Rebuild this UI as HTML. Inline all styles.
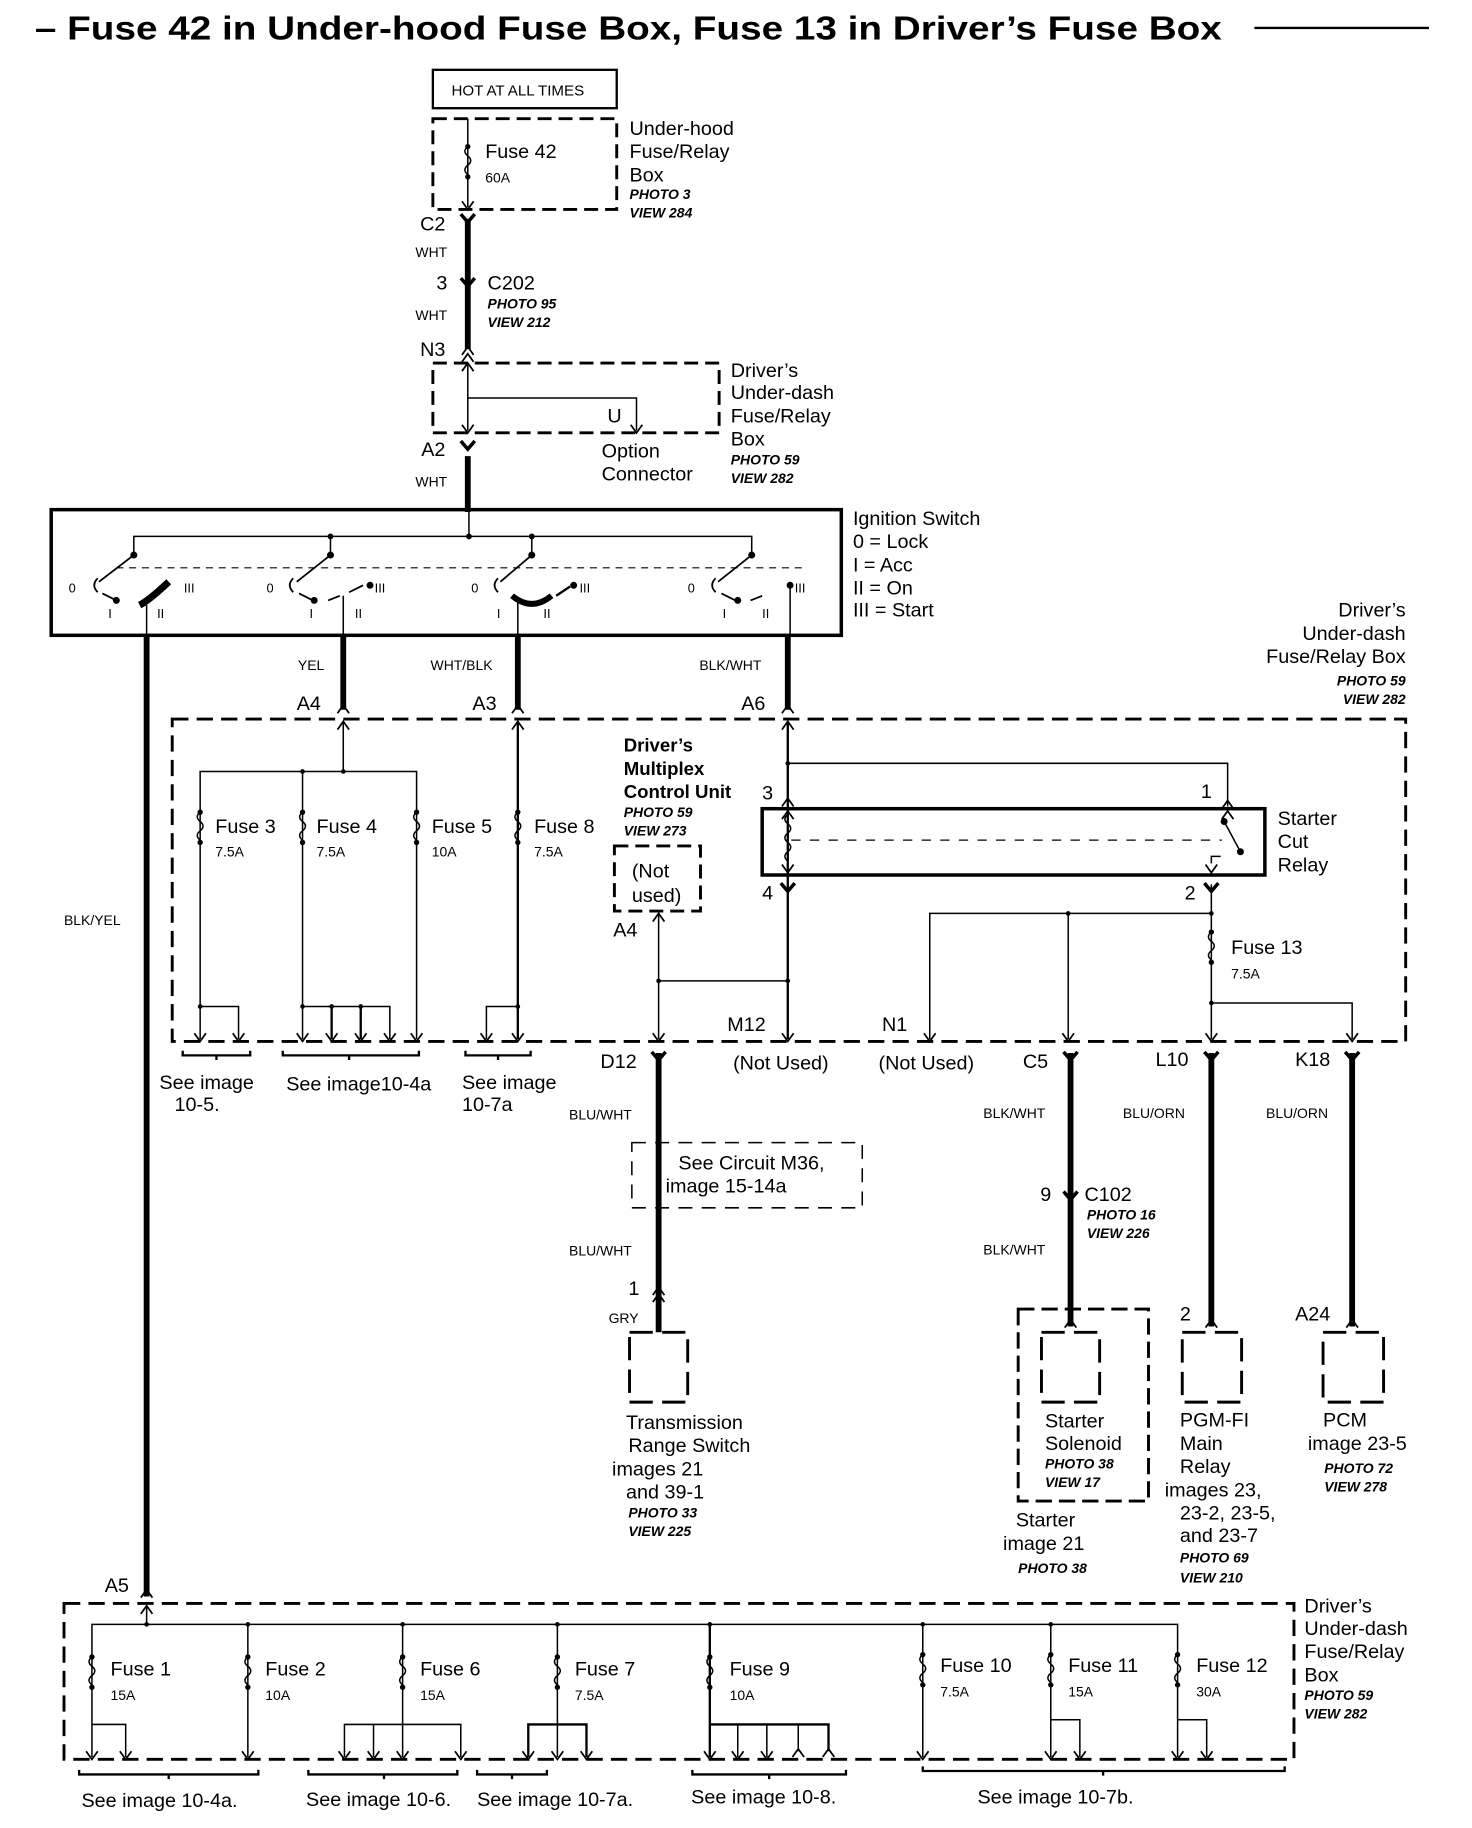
<!DOCTYPE html>
<html><head><meta charset="utf-8"><style>
html,body{margin:0;padding:0;background:#fff}
svg{display:block}
text{font-family:"Liberation Sans",sans-serif;fill:#000}
.t{font-size:17px}
.s{font-size:12px}
.i{font-size:12px;font-style:italic;font-weight:bold}
.b{font-size:16px;font-weight:bold}
</style></head><body>
<svg width="1472" height="1828" viewBox="0 0 1265 1571" preserveAspectRatio="none" xmlns="http://www.w3.org/2000/svg">
<defs>
<g id="fz"><path d="M0,-14 q-5,4 0,8 q5,4 0,8 q-5,4 0,8" fill="none" stroke="#000" stroke-width="1.3"/><circle cx="0" cy="-14" r="2.3"/><circle cx="0" cy="12" r="2.3"/></g>
<path id="dn" d="M-5,-7 L0,0 L5,-7" fill="none" stroke="#000" stroke-width="1.5"/>
<path id="up" d="M-5,7 L0,0 L5,7" fill="none" stroke="#000" stroke-width="1.5"/>
<path id="Y" d="M-6,-6 L0,1 L6,-6" fill="none" stroke="#000" stroke-width="3"/>
</defs>
<g stroke="#000" fill="none">
<!-- title line -->
<line x1="1078" y1="24" x2="1228" y2="24" stroke-width="2"/>
<!-- HOT box -->
<rect x="372" y="60" width="158" height="33" stroke-width="2"/>
<rect x="372" y="102" width="158" height="78" stroke-width="2.5" stroke-dasharray="12,6"/>
<line x1="402" y1="102" x2="402" y2="178" stroke-width="1.3"/>
<!-- main thick wire -->
<line x1="402" y1="188" x2="402" y2="300" stroke-width="5"/>
<line x1="402" y1="392" x2="402" y2="440" stroke-width="5"/>
<!-- under dash box 1 -->
<rect x="372" y="312" width="246" height="60" stroke-width="2.5" stroke-dasharray="12,6"/>
<polyline points="402,312 402,370" stroke-width="1.3"/>
<polyline points="402,342 547,342 547,370" stroke-width="1.3"/>
<!-- ignition switch -->
<rect x="44" y="438" width="679" height="108" stroke-width="3"/>
<polyline points="115,477 115,461 646,461 646,477" stroke-width="1.3"/>
<line x1="284" y1="461" x2="284" y2="477" stroke-width="1.3"/>
<line x1="457" y1="461" x2="457" y2="477" stroke-width="1.3"/>
<line x1="403" y1="440" x2="403" y2="461" stroke-width="1.3"/>
<line x1="100" y1="488" x2="690" y2="488" stroke-width="1" stroke-dasharray="6,5"/>
<g stroke-width="1.5">
<line x1="115" y1="477" x2="85" y2="500"/><line x1="284" y1="477" x2="255" y2="500"/><line x1="457" y1="477" x2="430" y2="500"/><line x1="646" y1="477" x2="617" y2="500"/>
<path d="M84,497 q-6,6 0,12"/><path d="M252,497 q-6,6 0,12"/><path d="M428,497 q-6,6 0,12"/><path d="M615,497 q-6,6 0,12"/>
<path d="M88,510 l12,6"/><path d="M257,510 l12,6"/><path d="M620,510 l12,6"/>
<path d="M282,516 l10,-4"/><path d="M645,516 l10,-4"/><path d="M300,509 l12,-6"/>
</g>
<path d="M120,520 q8,-4 25,-20" stroke-width="6"/>
<path d="M440,512 q17,14 34,0" stroke-width="5"/>
<path d="M478,512 l12,-8" stroke-width="2"/>
<circle cx="115" cy="477" r="2.5" fill="#000"/><circle cx="284" cy="477" r="2.5" fill="#000"/><circle cx="457" cy="477" r="2.5" fill="#000"/><circle cx="646" cy="477" r="2.5" fill="#000"/>
<circle cx="284" cy="461" r="2" fill="#000"/><circle cx="457" cy="461" r="2" fill="#000"/><circle cx="403" cy="461" r="2" fill="#000"/>
<circle cx="318" cy="503" r="2.5" fill="#000"/><circle cx="493" cy="503" r="2.5" fill="#000"/><circle cx="679" cy="503" r="2.5" fill="#000"/>
<circle cx="100" cy="516" r="2.5" fill="#000"/><circle cx="270" cy="516" r="2.5" fill="#000"/><circle cx="634" cy="516" r="2.5" fill="#000"/>
<line x1="126" y1="520" x2="126" y2="546" stroke-width="1.3"/>
<line x1="295" y1="512" x2="295" y2="546" stroke-width="1.3"/>
<line x1="445" y1="518" x2="445" y2="546" stroke-width="1.3"/>
<line x1="679" y1="503" x2="679" y2="546" stroke-width="1.3"/>
<!-- thick outputs -->
<line x1="126" y1="546" x2="126" y2="1372" stroke-width="5"/>
<line x1="295" y1="546" x2="295" y2="610" stroke-width="5"/>
<line x1="445" y1="546" x2="445" y2="610" stroke-width="5"/>
<line x1="677" y1="546" x2="677" y2="610" stroke-width="5"/>
<!-- big dashed box -->
<rect x="148" y="618" width="1060" height="277" stroke-width="2.5" stroke-dasharray="14,7"/>
<g stroke-width="1.3">
<polyline points="295,620 295,663"/>
<polyline points="172,893 172,663 358,663 358,893"/>
<line x1="260" y1="663" x2="260" y2="893"/>
<line x1="445" y1="620" x2="445" y2="893" stroke-width="2"/>
<polyline points="172,865 205,865 205,893"/>
<polyline points="260,865 335,865 335,893"/>
<line x1="285" y1="865" x2="285" y2="893" stroke-width="2"/>
<line x1="310" y1="865" x2="310" y2="893" stroke-width="2"/>
<polyline points="445,865 418,865 418,893"/>
<!-- multiplex -->
<rect x="528" y="727" width="74" height="56" stroke-width="2.5" stroke-dasharray="12,6"/>
<polyline points="566,785 566,893"/>
<polyline points="566,843 677,843"/>
<line x1="677" y1="620" x2="677" y2="893" stroke-width="2"/>
<polyline points="677,656 1055,656 1055,693"/>
<polyline points="1041,760 1041,893"/>
<polyline points="799,893 799,785 1041,785"/>
<line x1="918" y1="785" x2="918" y2="893"/>
<polyline points="1041,862 1162,862 1162,893"/>
<line x1="680" y1="722" x2="1050" y2="722" stroke-dasharray="8,8" stroke-width="1"/>
<path d="M677,700 q-5,4 0,8 q5,4 0,8 q-5,4 0,8 q5,4 0,8 q-5,4 0,8"/>
<path d="M1052,706 l14,26"/><path d="M1041,742 l0,-6 l8,0"/>
</g>
<rect x="655" y="695" width="432" height="57" stroke-width="3"/>
<circle cx="1052" cy="706" r="2.5" fill="#000"/><circle cx="1066" cy="732" r="2.5" fill="#000"/>
<!-- lower thick wires -->
<line x1="566" y1="905" x2="566" y2="1145" stroke-width="5"/>
<line x1="920" y1="905" x2="920" y2="1140" stroke-width="5"/>
<line x1="1041" y1="905" x2="1041" y2="1140" stroke-width="5"/>
<line x1="1162" y1="905" x2="1162" y2="1140" stroke-width="5"/>
<rect x="543" y="982" width="198" height="56" stroke-width="1.3" stroke-dasharray="12,8"/>
<rect x="541" y="1145" width="50" height="60" stroke-width="2.5" stroke-dasharray="20,8"/>
<rect x="875" y="1125" width="112" height="165" stroke-width="2.5" stroke-dasharray="14,6"/>
<rect x="895" y="1145" width="50" height="60" stroke-width="2.5" stroke-dasharray="20,8"/>
<rect x="1016" y="1145" width="51" height="60" stroke-width="2.5" stroke-dasharray="20,8"/>
<rect x="1137" y="1145" width="52" height="60" stroke-width="2.5" stroke-dasharray="20,8"/>
<!-- bottom box -->
<rect x="55" y="1378" width="1057" height="134" stroke-width="2.5" stroke-dasharray="14,7"/>
<g stroke-width="1.3">
<line x1="126" y1="1378" x2="126" y2="1396"/>
<polyline points="79,1510 79,1396 1012,1396 1012,1510"/>
<line x1="213" y1="1396" x2="213" y2="1510"/>
<line x1="346" y1="1396" x2="346" y2="1510"/>
<line x1="479" y1="1396" x2="479" y2="1510"/>
<line x1="610" y1="1396" x2="610" y2="1510" stroke-width="2"/>
<line x1="793" y1="1396" x2="793" y2="1510"/>
<line x1="903" y1="1396" x2="903" y2="1510"/>
<polyline points="79,1482 108,1482 108,1510"/>
<polyline points="296,1510 296,1482 396,1482 396,1510"/>
<line x1="321" y1="1482" x2="321" y2="1510"/>
<polyline points="454,1510 454,1482 504,1482 504,1510" stroke-width="2"/>
<polyline points="610,1482 712,1482 712,1505" stroke-width="2"/>
<line x1="634" y1="1482" x2="634" y2="1510"/><line x1="659" y1="1482" x2="659" y2="1510"/><line x1="686" y1="1482" x2="686" y2="1505"/>
<polyline points="903,1478 928,1478 928,1510"/>
<polyline points="1012,1478 1037,1478 1037,1510"/>
</g>
<!-- braces -->
<g stroke-width="2">
<path d="M157,903 v4 h58 v-4 M186,907 v4"/>
<path d="M243,903 v4 h117 v-4 M300,907 v4"/>
<path d="M400,903 v4 h56 v-4 M428,907 v4"/>
<path d="M68,1521 v4 h154 v-4 M145,1525 v4"/>
<path d="M265,1521 v4 h128 v-4 M330,1525 v4"/>
<path d="M410,1521 v4 h60 v-4 M440,1525 v4"/>
<path d="M595,1521 v4 h132 v-4 M661,1525 v4"/>
<path d="M793,1518 v4 h311 v-4 M948,1522 v4"/>
</g>
</g>
<!-- fuses -->
<g fill="#000">
<use href="#fz" x="402" y="140"/>
<use href="#fz" x="172" y="712"/><use href="#fz" x="260" y="712"/><use href="#fz" x="358" y="712"/><use href="#fz" x="445" y="712"/>
<use href="#fz" x="1041" y="815"/>
<use href="#fz" x="79" y="1438"/><use href="#fz" x="213" y="1438"/><use href="#fz" x="346" y="1438"/><use href="#fz" x="479" y="1438"/><use href="#fz" x="610" y="1438"/><use href="#fz" x="793" y="1436"/><use href="#fz" x="903" y="1436"/><use href="#fz" x="1012" y="1436"/>
<circle cx="295" cy="663" r="2"/><circle cx="260" cy="663" r="2"/><circle cx="677" cy="656" r="2"/><circle cx="566" cy="843" r="2"/><circle cx="677" cy="843" r="2"/>
<circle cx="918" cy="785" r="2"/><circle cx="1041" cy="785" r="2"/><circle cx="1041" cy="862" r="2"/>
<circle cx="172" cy="865" r="2"/><circle cx="260" cy="865" r="2"/><circle cx="285" cy="865" r="2"/><circle cx="310" cy="865" r="2"/><circle cx="445" cy="865" r="2"/>
<circle cx="126" cy="1396" r="2"/><circle cx="213" cy="1396" r="2"/><circle cx="346" cy="1396" r="2"/><circle cx="479" cy="1396" r="2"/><circle cx="610" cy="1396" r="2"/><circle cx="793" cy="1396" r="2"/><circle cx="903" cy="1396" r="2"/>
</g>
<!-- arrows -->
<use href="#dn" x="402" y="180"/>
<use href="#Y" x="402" y="190"/><use href="#Y" x="402" y="245"/><use href="#up" x="402" y="298"/><use href="#up" x="402" y="304"/>
<use href="#up" x="402" y="312"/><use href="#dn" x="402" y="372"/><use href="#dn" x="547" y="372"/><use href="#Y" x="402" y="385"/>
<use href="#up" x="295" y="606"/><use href="#up" x="445" y="606"/><use href="#up" x="677" y="606"/>
<use href="#up" x="295" y="620"/><use href="#up" x="445" y="620"/><use href="#up" x="677" y="620"/>
<use href="#dn" x="172" y="895"/><use href="#dn" x="205" y="895"/><use href="#dn" x="260" y="895"/><use href="#dn" x="285" y="895"/><use href="#dn" x="310" y="895"/><use href="#dn" x="335" y="895"/><use href="#dn" x="358" y="895"/><use href="#dn" x="418" y="895"/><use href="#dn" x="445" y="895"/>
<use href="#up" x="566" y="785"/><use href="#dn" x="566" y="895"/><use href="#dn" x="677" y="895"/><use href="#dn" x="799" y="895"/><use href="#dn" x="918" y="895"/><use href="#dn" x="1041" y="895"/><use href="#dn" x="1162" y="895"/>
<use href="#up" x="677" y="686"/><use href="#up" x="677" y="697"/><use href="#dn" x="677" y="750"/><use href="#Y" x="677" y="765"/>
<use href="#up" x="1055" y="688"/><use href="#up" x="1055" y="697"/><use href="#dn" x="1041" y="750"/><use href="#Y" x="1041" y="765"/>
<use href="#Y" x="566" y="910"/><use href="#Y" x="920" y="910"/><use href="#Y" x="1041" y="910"/><use href="#Y" x="1162" y="910"/>
<use href="#Y" x="920" y="1030"/><use href="#up" x="566" y="1106"/><use href="#up" x="566" y="1112"/>
<use href="#up" x="920" y="1134"/><use href="#up" x="1041" y="1134"/><use href="#up" x="1162" y="1134"/>
<use href="#up" x="126" y="1366"/><use href="#up" x="126" y="1380"/>
<use href="#dn" x="79" y="1512"/><use href="#dn" x="108" y="1512"/><use href="#dn" x="213" y="1512"/><use href="#dn" x="296" y="1512"/><use href="#dn" x="321" y="1512"/><use href="#dn" x="346" y="1512"/><use href="#dn" x="396" y="1512"/><use href="#dn" x="454" y="1512"/><use href="#dn" x="479" y="1512"/><use href="#dn" x="504" y="1512"/><use href="#dn" x="610" y="1512"/><use href="#dn" x="634" y="1512"/><use href="#dn" x="659" y="1512"/><use href="#up" x="686" y="1503"/><use href="#up" x="712" y="1503"/><use href="#dn" x="793" y="1512"/><use href="#dn" x="903" y="1512"/><use href="#dn" x="928" y="1512"/><use href="#dn" x="1012" y="1512"/><use href="#dn" x="1037" y="1512"/>
<!-- text -->
<text x="30" y="34" font-size="29" font-weight="bold" textLength="1020" lengthAdjust="spacingAndGlyphs">– Fuse 42 in Under-hood Fuse Box, Fuse 13 in Driver’s Fuse Box</text>
<text x="388" y="82" font-size="13">HOT AT ALL TIMES</text>
<text class="t" x="417" y="136">Fuse 42</text><text class="s" x="417" y="157">60A</text>
<text class="t" x="541" y="116">Under-hood</text><text class="t" x="541" y="136">Fuse/Relay</text><text class="t" x="541" y="156">Box</text>
<text class="i" x="541" y="171">PHOTO 3</text><text class="i" x="541" y="187">VIEW 284</text>
<text class="t" x="361" y="198">C2</text><text class="s" x="357" y="221">WHT</text>
<text class="t" x="375" y="249">3</text><text class="t" x="419" y="249">C202</text>
<text class="i" x="419" y="265">PHOTO 95</text><text class="i" x="419" y="281">VIEW 212</text>
<text class="s" x="357" y="275">WHT</text><text class="t" x="361" y="306">N3</text>
<text class="t" x="522" y="363">U</text>
<text class="t" x="628" y="324">Driver’s</text><text class="t" x="628" y="343">Under-dash</text><text class="t" x="628" y="363">Fuse/Relay</text><text class="t" x="628" y="383">Box</text>
<text class="i" x="628" y="399">PHOTO 59</text><text class="i" x="628" y="415">VIEW 282</text>
<text class="t" x="362" y="392">A2</text><text class="s" x="357" y="418">WHT</text>
<text class="t" x="517" y="393">Option</text><text class="t" x="517" y="413">Connector</text>
<text class="t" x="733" y="451">Ignition Switch</text><text class="t" x="733" y="471">0  = Lock</text><text class="t" x="733" y="491">I   = Acc</text><text class="t" x="733" y="511">II  = On</text><text class="t" x="733" y="530">III = Start</text>
<g font-size="11"><text x="59" y="509">0</text><text x="229" y="509">0</text><text x="405" y="509">0</text><text x="591" y="509">0</text>
<text x="158" y="509">III</text><text x="322" y="509">III</text><text x="498" y="509">III</text><text x="683" y="509">III</text>
<text x="93" y="531">I</text><text x="135" y="531">II</text><text x="266" y="531">I</text><text x="305" y="531">II</text><text x="427" y="531">I</text><text x="467" y="531">II</text><text x="621" y="531">I</text><text x="655" y="531">II</text></g>
<text class="t" x="1208" y="530" text-anchor="end">Driver’s</text><text class="t" x="1208" y="550" text-anchor="end">Under-dash</text><text class="t" x="1208" y="570" text-anchor="end">Fuse/Relay Box</text>
<text class="i" x="1208" y="589" text-anchor="end">PHOTO 59</text><text class="i" x="1208" y="605" text-anchor="end">VIEW 282</text>
<text class="s" x="256" y="576">YEL</text><text class="s" x="370" y="576">WHT/BLK</text><text class="s" x="601" y="576">BLK/WHT</text>
<text class="t" x="255" y="610">A4</text><text class="t" x="406" y="610">A3</text><text class="t" x="637" y="610">A6</text>
<text class="s" x="55" y="795">BLK/YEL</text>
<text class="t" x="185" y="716">Fuse 3</text><text class="s" x="185" y="736">7.5A</text>
<text class="t" x="272" y="716">Fuse 4</text><text class="s" x="272" y="736">7.5A</text>
<text class="t" x="371" y="716">Fuse 5</text><text class="s" x="371" y="736">10A</text>
<text class="t" x="459" y="716">Fuse 8</text><text class="s" x="459" y="736">7.5A</text>
<text class="b" x="536" y="646">Driver’s</text><text class="b" x="536" y="666">Multiplex</text><text class="b" x="536" y="686">Control Unit</text>
<text class="i" x="536" y="702">PHOTO 59</text><text class="i" x="536" y="718">VIEW 273</text>
<text class="t" x="543" y="754">(Not</text><text class="t" x="543" y="775">used)</text>
<text class="t" x="527" y="805">A4</text>
<text class="t" x="655" y="687">3</text><text class="t" x="655" y="773">4</text><text class="t" x="1032" y="686">1</text><text class="t" x="1018" y="773">2</text>
<text class="t" x="1098" y="709">Starter</text><text class="t" x="1098" y="729">Cut</text><text class="t" x="1098" y="749">Relay</text>
<text class="t" x="1058" y="820">Fuse 13</text><text class="s" x="1058" y="841">7.5A</text>
<text class="t" x="625" y="886">M12</text><text class="t" x="758" y="886">N1</text>
<text class="t" x="137" y="936">See image</text><text class="t" x="150" y="955">10-5.</text>
<text class="t" x="246" y="937">See image10-4a</text>
<text class="t" x="397" y="936">See image</text><text class="t" x="397" y="955">10-7a</text>
<text class="t" x="516" y="918">D12</text><text class="t" x="630" y="919">(Not Used)</text><text class="t" x="755" y="919">(Not Used)</text>
<text class="t" x="879" y="918">C5</text><text class="t" x="993" y="916">L10</text><text class="t" x="1113" y="916">K18</text>
<text class="s" x="489" y="962">BLU/WHT</text><text class="s" x="845" y="961">BLK/WHT</text><text class="s" x="965" y="961">BLU/ORN</text><text class="s" x="1088" y="961">BLU/ORN</text>
<text class="t" x="583" y="1005">See Circuit M36,</text><text class="t" x="572" y="1025">image 15-14a</text>
<text class="t" x="894" y="1032">9</text><text class="t" x="932" y="1032">C102</text>
<text class="i" x="934" y="1048">PHOTO 16</text><text class="i" x="934" y="1064">VIEW 226</text>
<text class="s" x="489" y="1079">BLU/WHT</text><text class="s" x="845" y="1078">BLK/WHT</text>
<text class="t" x="540" y="1113">1</text><text class="s" x="523" y="1137">GRY</text>
<text class="t" x="1014" y="1135">2</text><text class="t" x="1113" y="1135">A24</text>
<text class="t" x="538" y="1228">Transmission</text><text class="t" x="540" y="1248">Range Switch</text><text class="t" x="526" y="1268">images 21</text><text class="t" x="538" y="1288">and 39-1</text>
<text class="i" x="540" y="1304">PHOTO 33</text><text class="i" x="540" y="1320">VIEW 225</text>
<text class="t" x="898" y="1227">Starter</text><text class="t" x="898" y="1246">Solenoid</text>
<text class="i" x="898" y="1262">PHOTO 38</text><text class="i" x="898" y="1278">VIEW 17</text>
<text class="t" x="873" y="1312">Starter</text><text class="t" x="862" y="1332">image 21</text><text class="i" x="875" y="1352">PHOTO 38</text>
<text class="t" x="1014" y="1226">PGM-FI</text><text class="t" x="1014" y="1246">Main</text><text class="t" x="1014" y="1266">Relay</text><text class="t" x="1001" y="1286">images 23,</text><text class="t" x="1014" y="1306">23-2, 23-5,</text><text class="t" x="1014" y="1325">and 23-7</text>
<text class="i" x="1014" y="1343">PHOTO 69</text><text class="i" x="1014" y="1360">VIEW 210</text>
<text class="t" x="1137" y="1226">PCM</text><text class="t" x="1124" y="1246">image 23-5</text>
<text class="i" x="1138" y="1266">PHOTO 72</text><text class="i" x="1138" y="1282">VIEW 278</text>
<text class="t" x="90" y="1368">A5</text>
<text class="t" x="95" y="1440">Fuse 1</text><text class="s" x="95" y="1461">15A</text>
<text class="t" x="228" y="1440">Fuse 2</text><text class="s" x="228" y="1461">10A</text>
<text class="t" x="361" y="1440">Fuse 6</text><text class="s" x="361" y="1461">15A</text>
<text class="t" x="494" y="1440">Fuse 7</text><text class="s" x="494" y="1461">7.5A</text>
<text class="t" x="627" y="1440">Fuse 9</text><text class="s" x="627" y="1461">10A</text>
<text class="t" x="808" y="1437">Fuse 10</text><text class="s" x="808" y="1458">7.5A</text>
<text class="t" x="918" y="1437">Fuse 11</text><text class="s" x="918" y="1458">15A</text>
<text class="t" x="1028" y="1437">Fuse 12</text><text class="s" x="1028" y="1458">30A</text>
<text class="t" x="1121" y="1386">Driver’s</text><text class="t" x="1121" y="1405">Under-dash</text><text class="t" x="1121" y="1425">Fuse/Relay</text><text class="t" x="1121" y="1445">Box</text>
<text class="i" x="1121" y="1461">PHOTO 59</text><text class="i" x="1121" y="1477">VIEW 282</text>
<text class="t" x="70" y="1553">See image 10-4a.</text><text class="t" x="263" y="1552">See image 10-6.</text><text class="t" x="410" y="1552">See image 10-7a.</text><text class="t" x="594" y="1550">See image 10-8.</text><text class="t" x="840" y="1550">See image 10-7b.</text>
</svg>
</body></html>
